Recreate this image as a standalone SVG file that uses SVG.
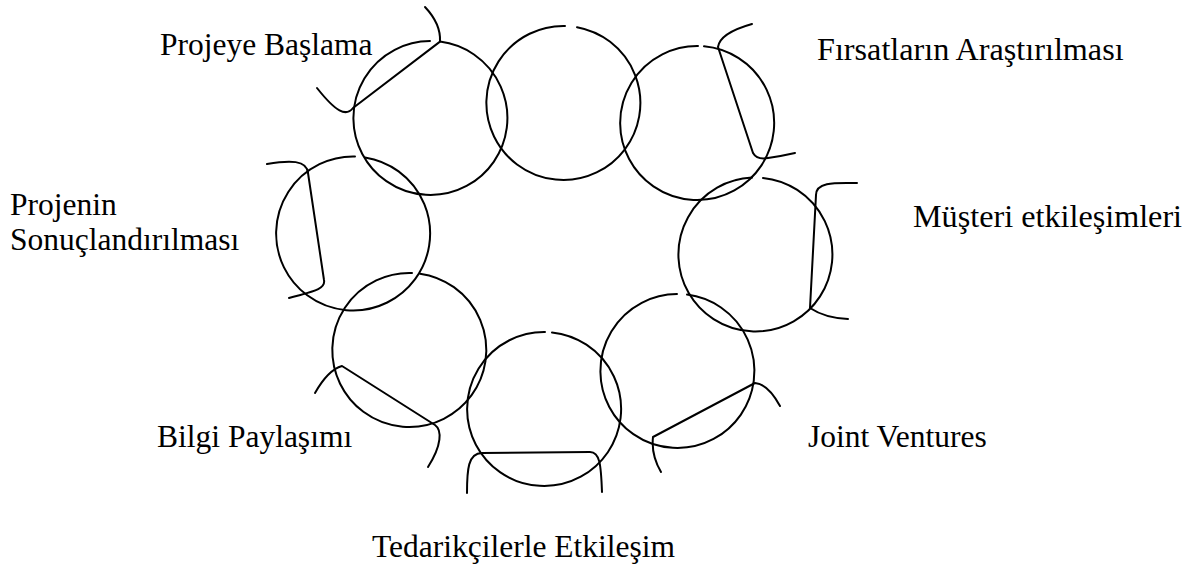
<svg xmlns="http://www.w3.org/2000/svg" width="1193" height="569" viewBox="0 0 1193 569">
<style>
.c{fill:none;stroke:#000;stroke-width:2;stroke-linecap:round;stroke-linejoin:round}
.t{font-family:"Liberation Serif","Times New Roman",serif;font-size:31.5px;fill:#000}
.w{font-size:32.2px}
</style>
<rect width="1193" height="569" fill="#fff"/>
<g id="node-projeye-baslama">
<path class="c" d="M440,41.6 A77,77 0 1 1 430,41"/>
<path class="c" d="M425,7 Q441,24 440,41.6 L353,108 C346,117 336,112 317,88"/>
<text class="t" x="160" y="55">Projeye Başlama</text>
</g>
<g id="node-center-top">
<path class="c" d="M577,27.2 A77,77 0 1 1 565,26"/>
</g>
<g id="node-firsatlarin-arastirilmasi">
<path class="c" d="M704,46.3 A77,77 0 1 1 698,46"/>
<path class="c" d="M752,24 Q720,33 718,47 L753,153 Q757,160 768,158 Q782,156 795,153"/>
<text class="t w" x="817" y="60">Fırsatların Araştırılması</text>
</g>
<g id="node-musteri-etkilesimleri">
<path class="c" d="M763,177.9 A77,77 0 1 1 752,177.6"/>
<path class="c" d="M857,183 C838,183 816,181 816,195 L810,308 Q825,318 848,319"/>
<text class="t w" x="913" y="227">Müşteri etkileşimleri</text>
</g>
<g id="node-joint-ventures">
<path class="c" d="M687,294.6 A77,77 0 1 1 677,294"/>
<path class="c" d="M780,406 Q768,384 755,383 L653,437 Q651,455 661,472"/>
<text class="t" x="808" y="447">Joint Ventures</text>
</g>
<g id="node-tedarikciler">
<path class="c" d="M552,332.4 A77,77 0 1 1 545,332"/>
<path class="c" d="M467,493 C467,470 468,453 482,453 L590,452 C600,452 601,465 602,492"/>
<text class="t" x="372" y="557">Tedarikçilerle Etkileşim</text>
</g>
<g id="node-bilgi-paylasimi">
<path class="c" d="M420,273.7 A77,77 0 1 1 412,273"/>
<path class="c" d="M315,393 Q328,370 342,366 L435,425 C442,430 442,445 428,467"/>
<text class="t" x="157" y="447">Bilgi Paylaşımı</text>
</g>
<g id="node-projenin-sonuclandirilmasi">
<path class="c" d="M365,157.4 A77,77 0 1 1 355,156.5"/>
<path class="c" d="M267,164 C290,160 307,160 308,173 L324,280 C326,290 310,292 289,298"/>
<text class="t" x="10" y="215">Projenin</text>
<text class="t" x="10" y="250">Sonuçlandırılması</text>
</g>
<g id="connectors"></g>
</svg>
